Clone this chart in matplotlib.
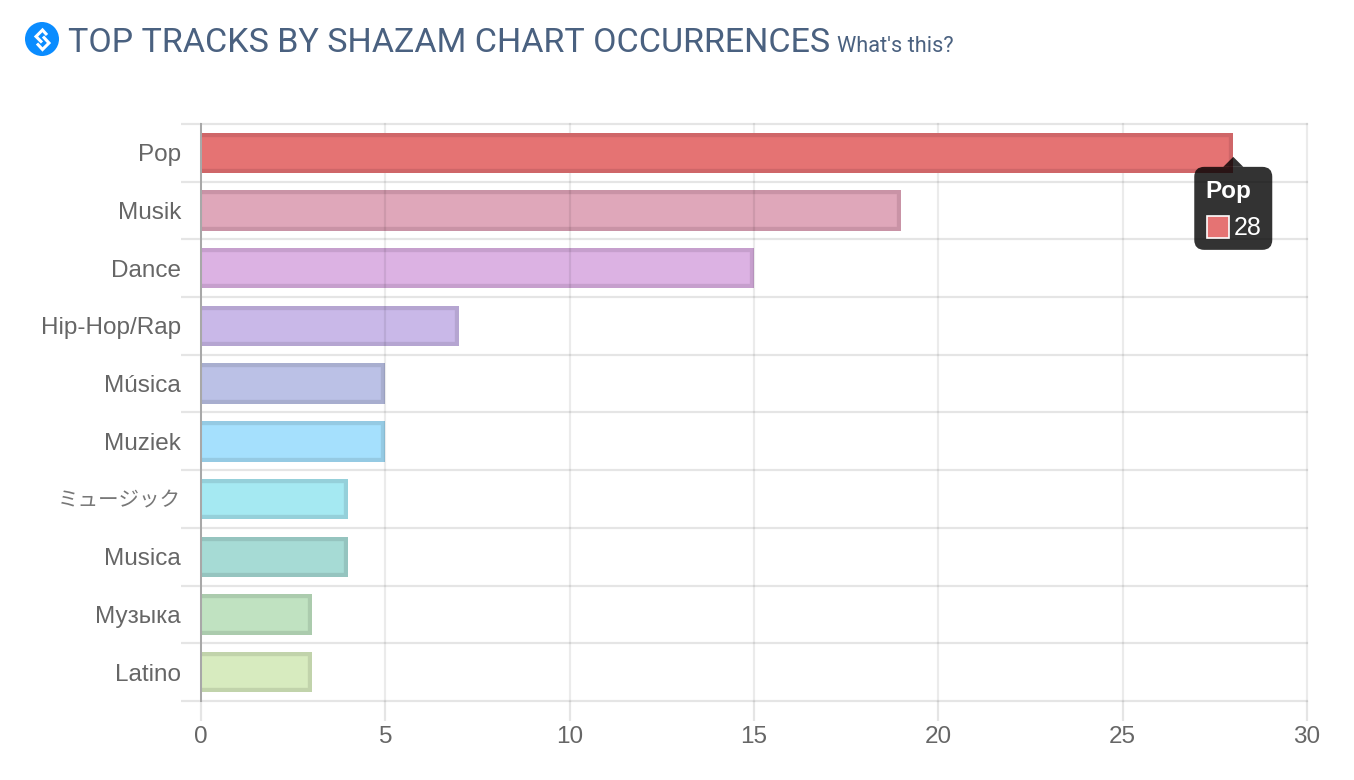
import matplotlib
matplotlib.use('Agg')
import matplotlib.pyplot as plt
from matplotlib.patches import Circle, FancyBboxPatch, Polygon, Rectangle

plt.rcParams['font.family'] = ['Liberation Sans', 'Noto Sans CJK JP', 'DejaVu Sans']

genres = ['Pop', 'Musik', 'Dance', 'Hip-Hop/Rap', 'Música', 'Muziek', 'ミュージック', 'Musica', 'Музыка', 'Latino']
counts = [28, 19, 15, 7, 5, 5, 4, 4, 3, 3]
fills = ['#E57373', '#DFA7BA', '#DCB2E3', '#C9B8E8', '#BBC1E6', '#A5E0FD', '#A5E9F2', '#A6DBD5', '#C0E2C1', '#D7EBBF']
edges = ['#CF6668', '#C993A6', '#C69FCD', '#B5A5D1', '#A8AECF', '#95CAE3', '#95D0DA', '#95C4BF', '#ABCBAD', '#C1D3AB']
x_ticks = [0, 5, 10, 15, 20, 25, 30]

W, H = 1354, 780
tick_col = '#666666'
title_col = '#4A6180'

fig = plt.figure(figsize=(W / 100, H / 100), dpi=100)
ax = fig.add_axes([201 / W, 1 - 701 / H, (1307 - 201) / W, (701 - 124) / H])

bars = ax.barh(range(len(genres)), counts, height=0.7, color=fills, zorder=1)
# chart.js draws the border inside the bar and skips the left side,
# so clip a wide edge to the bar and start it left of the bar
for i, (bar, edge) in enumerate(zip(bars, edges)):
    # first bar is the hovered one, it hides the grid
    z = 3.5 if i == 0 else 1
    bar.set_zorder(z)
    x0, y0 = bar.get_xy()
    r = Rectangle((x0 - 1, y0), bar.get_width() + 1, bar.get_height(), fill=False,
                  edgecolor=edge, linewidth=6, zorder=z + 0.1)
    ax.add_patch(r)
    r.set_clip_path(bar)

ax.set_xlim(0, 30)
ax.set_ylim(len(genres) - 0.5, -0.5)
ax.set_xticks(x_ticks)
ax.set_yticks(range(len(genres)))
ax.set_yticklabels(genres, va='center_baseline')
ax.set_yticks([i - 0.5 for i in range(len(genres) + 1)], minor=True)
ax.set_axisbelow(False)
ax.grid(axis='x', which='major', color='black', alpha=0.08, linewidth=1.6, zorder=3)
ax.grid(axis='y', which='minor', color='black', alpha=0.1, linewidth=1.6, zorder=3)
ax.tick_params(axis='y', which='major', length=0, pad=14.4, labelsize=17.5, labelcolor=tick_col)
ax.tick_params(axis='y', which='minor', length=14.4, width=1.6, color='#E5E5E5')
ax.tick_params(axis='x', length=14.4, width=1.6, color='#E5E5E5', pad=3.5, labelsize=17.5, labelcolor=tick_col)
for name, spine in ax.spines.items():
    spine.set_visible(name == 'left')
ax.spines['left'].set_color('#A8A8A8')
ax.spines['left'].set_linewidth(1.44)
ax.spines['left'].set_zorder(4)

# outer grid lines would be cut in half by the axes box
for tick in ax.xaxis.get_major_ticks() + ax.yaxis.get_minor_ticks():
    tick.gridline.set_clip_on(False)

# the katakana label is set smaller and thinner than the latin ones
for label in ax.get_yticklabels():
    if label.get_text() == 'ミュージック':
        label.set_fontsize(14.8)
        label.set_color('#777777')

# overlay in pixel coordinates for title, icon and tooltip
ov = fig.add_axes([0, 0, 1, 1], facecolor='none', zorder=5)
ov.set_xlim(0, W)
ov.set_ylim(H, 0)
ov.axis('off')

ov.add_patch(Circle((42, 39), 17, color='#0A8CFF', linewidth=0))
ov.add_patch(Polygon([(47, 35), (42.5, 30), (36, 36.5), (42, 42.5)], closed=False, fill=False, edgecolor='white', linewidth=2.2))
ov.add_patch(Polygon([(37, 43.5), (42.5, 49.5), (49, 43), (43, 36.5)], closed=False, fill=False, edgecolor='white', linewidth=2.2))

ov.text(68, 52, 'TOP TRACKS BY SHAZAM CHART OCCURRENCES', family='Roboto', fontsize=24.44, color=title_col, va='baseline')
ov.text(837, 52, "What's this?", family='Roboto', fontsize=15.7, color=title_col, va='baseline')

# tooltip for the first bar
tip_x, tip_y = ax.transData.transform((counts[0], 0))
tip_y = H - tip_y + 4
box_col = (0, 0, 0, 0.8)
ov.add_patch(FancyBboxPatch((tip_x - 39 + 10, tip_y + 10 + 10), 78 - 20, 83 - 20,
                            boxstyle='round,pad=10,rounding_size=10', facecolor=box_col, edgecolor='none'))
ov.add_patch(Polygon([(tip_x, tip_y), (tip_x - 10, tip_y + 10), (tip_x + 10, tip_y + 10)], facecolor=box_col, edgecolor='none'))
ov.text(tip_x - 28, tip_y + 41, genres[0], fontsize=17.5, fontweight='bold', color='white', va='baseline')
ov.add_patch(Rectangle((tip_x - 26.5, tip_y + 59), 22, 22, facecolor=fills[0], edgecolor='white', linewidth=1.2))
ov.text(tip_x, tip_y + 78, str(counts[0]), fontsize=18, color='white', va='baseline')

fig.savefig('out.png', dpi=100, facecolor='white')
